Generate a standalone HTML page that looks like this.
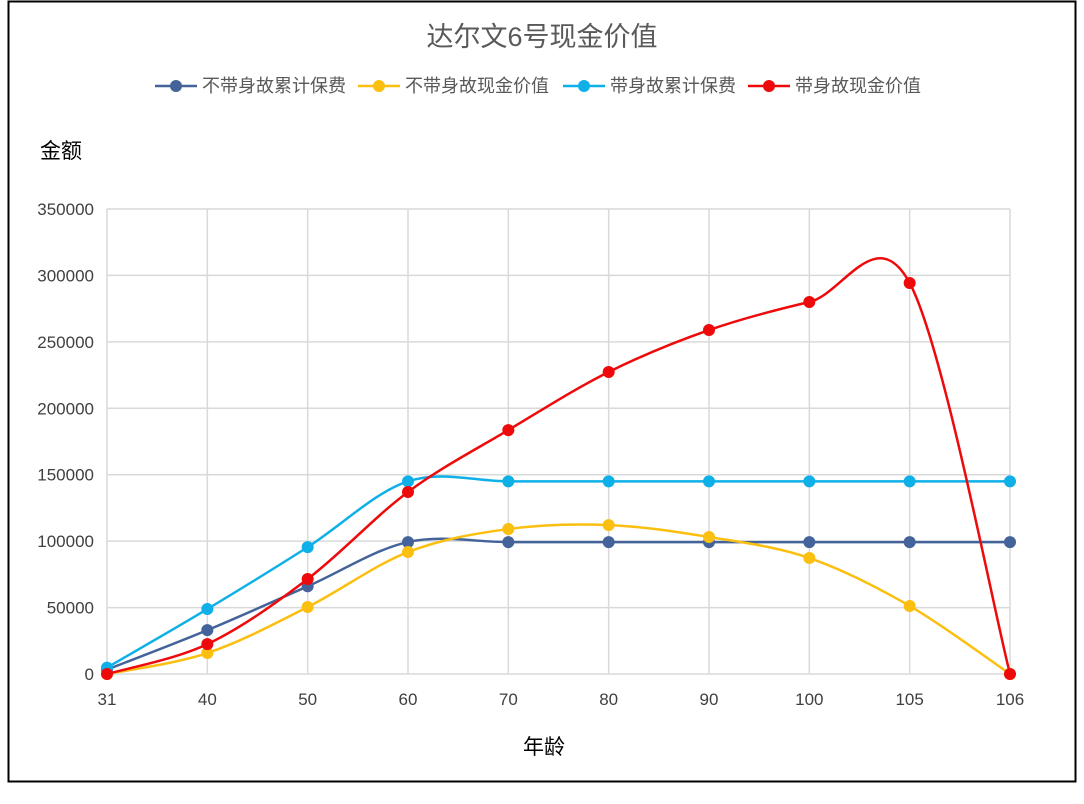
<!DOCTYPE html>
<html><head><meta charset="utf-8"><style>
html,body{margin:0;padding:0;background:#fff;}
svg text{font-family:"Liberation Sans","Noto Sans CJK SC",sans-serif;}
</style></head><body>
<svg id="chart" width="1084" height="799" viewBox="0 0 1084 799" xmlns="http://www.w3.org/2000/svg">
<rect x="8.5" y="1.5" width="1067" height="780" fill="#fff" stroke="#000" stroke-width="2"/>
<text x="542" y="46" text-anchor="middle" font-size="27" fill="#595959">达尔文6号现金价值</text>
<text x="40" y="158" font-size="21" fill="#000">金额</text>
<text x="544" y="754" text-anchor="middle" font-size="21" fill="#000">年龄</text>
<g id="grid"></g><g id="series"></g><g id="legend"></g>
</svg>
<script>
const categories=["31","40","50","60","70","80","90","100","105","106"];
const yTicks=[0,50000,100000,150000,200000,250000,300000,350000];
const seriesNames=["不带身故累计保费","不带身故现金价值","带身故累计保费","带身故现金价值"];
const seriesColors=["#44639a","#fbbf0f","#0fb0e8","#ee0a0a"];
const noDeathPremium=[3300,33000,66000,99300,99300,99300,99300,99300,99300,99300];
const noDeathCash=[0,15800,50400,91800,109100,112100,103100,87300,51200,0];
const deathPremium=[4800,48900,95500,145000,145000,145000,145000,145000,145000,145000];
const deathCash=[0,22500,71500,137000,183600,227300,258900,280000,294300,0];
const allSeries=[noDeathPremium,noDeathCash,deathPremium,deathCash];
const NS="http://www.w3.org/2000/svg";
const x0=107,x1=1010,yb=674,yt=209,ymax=350000;
const xs=i=>x0+(x1-x0)*i/(categories.length-1);
const ys=v=>yb-(yb-yt)*v/ymax;
function mk(t,a,p){const e=document.createElementNS(NS,t);for(const k in a)e.setAttribute(k,a[k]);p.appendChild(e);return e;}
const grid=document.getElementById('grid');
yTicks.forEach(v=>{
 const l=mk('line',{x1:x0,x2:x1,y1:ys(v),y2:ys(v),stroke:'#d9d9d9','stroke-width':1.5},grid);
 
 
 const t=mk('text',{x:94,y:ys(v)+6,'text-anchor':'end','font-size':17,fill:'#404040'},grid);t.textContent=v;
 
 
});
categories.forEach((c,i)=>{
 const l=mk('line',{x1:xs(i),x2:xs(i),y1:yt,y2:yb,stroke:'#d9d9d9','stroke-width':1.5},grid);
 
 
 const t=mk('text',{x:xs(i),y:705,'text-anchor':'middle','font-size':17,fill:'#404040'},grid);t.textContent=c;
 
 
});
const sg=document.getElementById('series');
allSeries.forEach((d,s)=>{
 const P=d.map((v,i)=>[xs(i),ys(v)]);
 let p='M'+P[0][0]+','+P[0][1];
 for(let i=0;i<P.length-1;i++){
  const a=P[Math.max(0,i-1)],b=P[i],c=P[i+1],e=P[Math.min(P.length-1,i+2)];
  const c1=[b[0]+(c[0]-a[0])/6,b[1]+(c[1]-a[1])/6],c2=[c[0]-(e[0]-b[0])/6,c[1]-(e[1]-b[1])/6];
  p+=' C'+c1+' '+c2+' '+c;
 }
 const path=mk('path',{d:p,fill:'none',stroke:seriesColors[s],'stroke-width':2.5},sg);
 
 
 P.forEach(q=>{
  const m=mk('circle',{cx:q[0],cy:q[1],r:6,fill:seriesColors[s]},sg);
  
  
 });
});
const lg=document.getElementById('legend');
const lx=[155,358,563,748];
seriesNames.forEach((n,i)=>{
 const g=mk('g',{},lg);
 
 
 mk('line',{x1:lx[i],x2:lx[i]+42,y1:86,y2:86,stroke:seriesColors[i],'stroke-width':2.5},g);
 mk('circle',{cx:lx[i]+21,cy:86,r:6,fill:seriesColors[i]},g);
 const t=mk('text',{x:lx[i]+47,y:92,'font-size':18,fill:'#595959'},g);t.textContent=n;
});
</script>
</body></html>
